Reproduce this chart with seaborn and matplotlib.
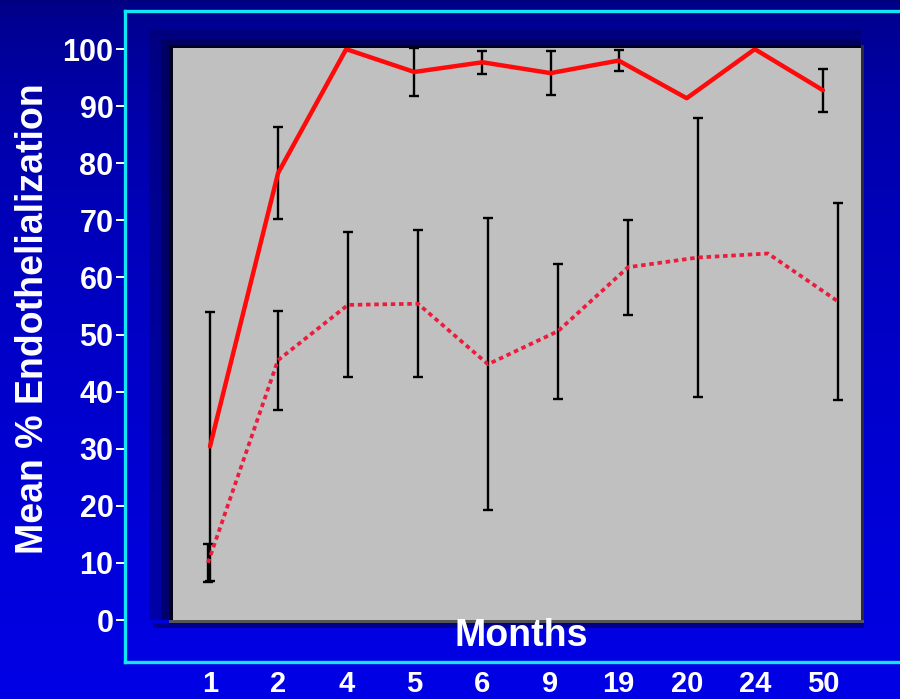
import numpy as np
import pandas as pd
import matplotlib
matplotlib.use("Agg")
import matplotlib.pyplot as plt
from matplotlib.patches import Rectangle
import seaborn as sns

# ---- data -------------------------------------------------------------
months = ["1", "2", "4", "5", "6", "9", "19", "20", "24", "50"]

solid_mean = [30.4, 78.3, 100.0, 96.0, 97.7, 95.8, 98.0, 91.4, 100.0, 92.8]
solid_err = [23.6, 8.1, np.nan, 4.2, 2.0, 3.9, 1.8, np.nan, np.nan, 3.8]

dotted_mean = [10.0, 45.5, 55.2, 55.4, 44.8, 50.6, 61.8, 63.5, 64.2, 55.8]
dotted_err = [3.3, 8.7, 12.7, 12.9, 25.6, 11.8, 8.3, 24.5, np.nan, 17.3]

yticks = list(range(0, 101, 10))

# ---- styling ------------------------------------------------------------
sns.set_theme(style="white")
plt.rcParams["font.family"] = ["Liberation Sans", "DejaVu Sans"]

W, H = 900, 699
fig = plt.figure(figsize=(W / 100, H / 100), dpi=100)

# slide background: vertical navy-to-blue gradient, drawn in pixel units
bg = fig.add_axes([0, 0, 1, 1], zorder=0)
bg.set_xlim(0, W)
bg.set_ylim(H, 0)
bg.axis("off")
t = np.linspace(0, 1, 256)[:, None]
blue = 0.50 + 0.40 * np.sqrt(t)
grad = np.dstack([np.zeros_like(blue), np.zeros_like(blue), blue])
bg.imshow(grad, extent=(0, W, H, 0), aspect="auto", interpolation="bilinear")

# bevel: shadow falls on the left and top of the plotting panel
PX0, PY0, PW, PH = 173, 48, 688, 572
for pad, col, a in [(24, (0, 0, 0.40), 0.45), (12, (0, 0, 0.30), 0.6), (4, (0, 0, 0.12), 1.0)]:
    bg.add_patch(Rectangle((PX0 - pad, PY0 - pad * 0.75), PW + pad, PH + pad * 0.75,
                           facecolor=col, edgecolor="none", alpha=a))
bg.add_patch(Rectangle((PX0 + PW, PY0 - 3), 3, PH + 6, facecolor="#2a2a3a", edgecolor="none"))
bg.add_patch(Rectangle((PX0 - 4, PY0 + PH), PW + 7, 2.5, facecolor="#555555", edgecolor="none"))
bg.add_patch(Rectangle((PX0 - 20, PY0 + PH + 2.5), PW + 23, 5, facecolor=(0, 0, 0.45),
                       edgecolor="none", alpha=0.8))

# cyan frame
for xs, ys in [([124.5, 124.5], [10.5, 661.5]),
               ([124.5, 905], [10.5, 10.5]),
               ([124.5, 905], [661.5, 661.5])]:
    bg.plot(xs, ys, color="#10e6f6", lw=2.4, solid_capstyle="projecting")

# ---- main panel -----------------------------------------------------------
ax = fig.add_axes([PX0 / W, 1 - (PY0 + PH) / H, PW / W, PH / H], zorder=1)
ax.set_facecolor("#c0c0c0")

idx = np.arange(len(months))
solid_pos = idx.astype(float)
dotted_pos = idx * 1.028 - 0.03   # second series sits on a slightly wider grid

df_solid = pd.DataFrame({"pos": solid_pos, "mean": solid_mean, "err": solid_err})
df_dot = pd.DataFrame({"pos": dotted_pos, "mean": dotted_mean, "err": dotted_err})

for d in (df_solid, df_dot):
    ax.errorbar(d["pos"], d["mean"], yerr=d["err"], fmt="none", ecolor="black",
                elinewidth=1.7, capsize=3.5, capthick=1.7, zorder=2)

sns.lineplot(data=df_solid, x="pos", y="mean", ax=ax, color="#ff0a0a",
             linewidth=3.2, zorder=3, sort=False)
sns.lineplot(data=df_dot, x="pos", y="mean", ax=ax, color="#ec1c3c",
             linewidth=2.7, zorder=3, sort=False, dashes=False,
             linestyle=(0, (1.2, 1.0)))

ax.set_xlim(-0.543, 9.559)
ax.set_ylim(0.3, 100.2)

for s in ax.spines.values():
    s.set_visible(False)
ax.spines["left"].set_position(("outward", 49 * 72 / 100))

ax.set_yticks(yticks)
ax.set_yticklabels([str(v) for v in yticks])
ax.set_xticks(idx)
ax.set_xticklabels(months)
ax.tick_params(axis="y", left=True, direction="out", length=6, width=1.4,
               color="white", pad=1.5, labelsize=22, labelcolor="white")
ax.tick_params(axis="x", bottom=False, length=0, pad=36, labelsize=21,
               labelcolor="white")
for lab in ax.get_xticklabels() + ax.get_yticklabels():
    lab.set_fontweight("bold")
ax.set_xlabel("")
ax.set_ylabel("")
ax.grid(False)

fig.text(33 / W, 1 - 319 / H, "Mean % Endothelialization", rotation=90,
         ha="center", va="center", fontsize=27, fontweight="bold", color="white")
fig.text(521 / W, 1 - 636 / H, "Months", ha="center", va="center",
         fontsize=27, fontweight="bold", color="white", zorder=5)

fig.savefig("out.png", dpi=100)
